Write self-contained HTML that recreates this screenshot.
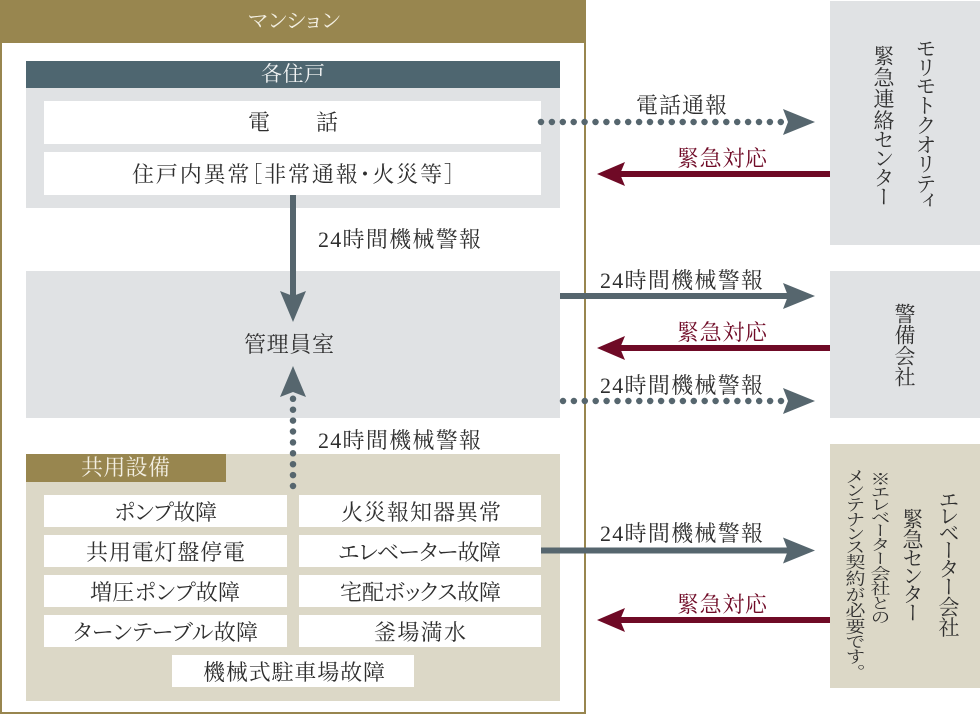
<!DOCTYPE html>
<html><head><meta charset="utf-8"><style>
html,body{margin:0;padding:0;background:#fff}
body{width:980px;height:714px;overflow:hidden;position:relative}
svg{position:absolute;left:0;top:0}
svg text{font-family:"Liberation Serif","Noto Serif CJK SC",serif;font-size:22px;fill:#2e2e2e;font-feature-settings:"palt" 1}
.v{position:absolute;writing-mode:vertical-rl;font-family:"Noto Serif CJK SC","Liberation Serif",serif;color:#2e2e2e;font-size:21px;line-height:26px;white-space:nowrap;width:26px;font-feature-settings:"vpal" 1}
</style></head><body>
<svg width="980" height="714" viewBox="0 0 980 714" xmlns="http://www.w3.org/2000/svg">
<rect x="1" y="1" width="584" height="712" fill="#fff" stroke="#98864f" stroke-width="2"/>
<rect x="0" y="0" width="586" height="43" fill="#98864f"/>
<rect x="26" y="61" width="534" height="27" fill="#4e6670"/>
<rect x="26" y="88" width="534" height="120" fill="#e0e2e4"/>
<rect x="44" y="101" width="497" height="43" fill="#fff"/>
<rect x="44" y="152" width="497" height="43" fill="#fff"/>
<rect x="26" y="271" width="534" height="147" fill="#e0e2e4"/>
<rect x="26" y="454" width="534" height="247" fill="#dcd8c7"/>
<rect x="26" y="454" width="200" height="28" fill="#98864f"/>
<rect x="44" y="495" width="243" height="32" fill="#fff"/>
<rect x="299" y="495" width="242" height="32" fill="#fff"/>
<rect x="44" y="535" width="243" height="32" fill="#fff"/>
<rect x="299" y="535" width="242" height="32" fill="#fff"/>
<rect x="44" y="575" width="243" height="32" fill="#fff"/>
<rect x="299" y="575" width="242" height="32" fill="#fff"/>
<rect x="44" y="615" width="243" height="32" fill="#fff"/>
<rect x="299" y="615" width="242" height="32" fill="#fff"/>
<rect x="172" y="655" width="242" height="32" fill="#fff"/>
<rect x="830" y="1" width="150" height="244" fill="#e0e2e4"/>
<rect x="830" y="271" width="150" height="147" fill="#e0e2e4"/>
<rect x="830" y="444" width="150" height="244" fill="#dcd8c7"/>
<g stroke="#56666e" stroke-width="6.500" fill="none">
<line x1="541" y1="122" x2="787" y2="122" stroke-linecap="round" stroke-dasharray="0 10.900"/>
<line x1="563" y1="401" x2="787" y2="401" stroke-linecap="round" stroke-dasharray="0 10.900"/>
<line x1="293" y1="486" x2="293" y2="396" stroke-linecap="round" stroke-dasharray="0 10.900"/>
</g>
<g stroke="#56666e" stroke-width="6" fill="none">
<line x1="560" y1="296" x2="790" y2="296"/>
<line x1="541" y1="550.500" x2="790" y2="550.500"/>
<line x1="293" y1="195" x2="293" y2="300"/>
</g>
<g fill="#56666e">
<path d="M815 122L783 109L788 122L783 135Z"/>
<path d="M815 296L783 283L788 296L783 309Z"/>
<path d="M815 401L783 388L788 401L783 414Z"/>
<path d="M815 550.500L783 537.500L788 550.500L783 563.500Z"/>
<path d="M293 322L280 291L293 296L306 291Z"/>
<path d="M293 366L280 397L293 392L306 397Z"/>
</g>
<g stroke="#6f0a26" stroke-width="6" fill="none">
<line x1="830" y1="174" x2="615" y2="174"/>
<line x1="830" y1="348" x2="615" y2="348"/>
<line x1="830" y1="620" x2="615" y2="620"/>
</g>
<g fill="#6f0a26">
<path d="M597 174L625 162L620 174L625 186Z"/>
<path d="M597 348L625 336L620 348L625 360Z"/>
<path d="M597 620L625 608L620 620L625 632Z"/>
</g>
<g>
<text x="248" y="28" textLength="92" style="font-size:21px;fill:#f3efe2">マンション</text>
<text x="261" y="81" textLength="64" style="font-size:21px;fill:#f2f4f4">各住戸</text>
<text x="248" y="130" textLength="90">電　　話</text>
<text x="132" y="182" textLength="323">住戸内異常［非常通報･火災等］</text>
<text x="318" y="247" textLength="163">24時間機械警報</text>
<text x="244" y="352" textLength="90">管理員室</text>
<text x="318" y="448" textLength="163">24時間機械警報</text>
<text x="81" y="475" textLength="89" style="fill:#f3efe2">共用設備</text>
<text x="114" y="520" textLength="103">ポンプ故障</text>
<text x="341" y="520" textLength="160">火災報知器異常</text>
<text x="86" y="560" textLength="159">共用電灯盤停電</text>
<text x="338" y="560" textLength="163">エレベーター故障</text>
<text x="90" y="600" textLength="150">増圧ポンプ故障</text>
<text x="340" y="600" textLength="161">宅配ボックス故障</text>
<text x="73" y="640" textLength="185">ターンテーブル故障</text>
<text x="374" y="640" textLength="92">釜場満水</text>
<text x="203" y="680" textLength="182">機械式駐車場故障</text>
<text x="636" y="113" textLength="91">電話通報</text>
<text x="677" y="166" textLength="90" style="fill:#6f0a26">緊急対応</text>
<text x="600" y="288" textLength="163">24時間機械警報</text>
<text x="677" y="340" textLength="90" style="fill:#6f0a26">緊急対応</text>
<text x="600" y="393" textLength="163">24時間機械警報</text>
<text x="600" y="541" textLength="163">24時間機械警報</text>
<text x="677" y="612" textLength="90" style="fill:#6f0a26">緊急対応</text>
</g>
</svg>
<div class="v" style="left:913px;top:40px;letter-spacing:.500px">モリモトクオリティ</div>
<div class="v" style="left:871px;top:45px;letter-spacing:.500px">緊急連絡センター</div>
<div class="v" style="left:892px;top:303px;letter-spacing:0">警備会社</div>
<div class="v" style="left:936px;top:492px;letter-spacing:-.700px">エレベーター会社</div>
<div class="v" style="left:900px;top:508px;letter-spacing:-.300px">緊急センター</div>
<div class="v" style="left:867px;top:471px;font-size:20px;letter-spacing:0;transform:scaleY(.766);transform-origin:0 0">※エレベーター会社との</div>
<div class="v" style="left:842px;top:470px;font-size:20px;letter-spacing:0;transform:scaleY(.82);transform-origin:0 0">メンテナンス契約が必要です。</div>
</body></html>
